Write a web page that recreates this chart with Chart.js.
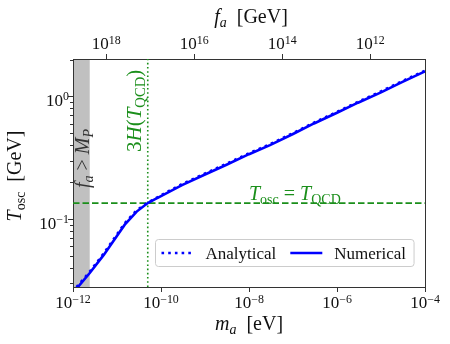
<!DOCTYPE html>
<html>
<head>
<meta charset="utf-8">
<script src="https://cdn.jsdelivr.net/npm/chart.js@4.4.1/dist/chart.umd.min.js"></script>
<style>
  body { margin: 0; background: #fff; }
  canvas { display: block; }
</style>
</head>
<body>
<canvas id="oscChart" width="450" height="344"></canvas>
<script>
// axion mass m_a [eV] and oscillation temperature T_osc [GeV]
const massEV = [1.2e-12, 2.4e-12, 5e-12, 8e-12, 1.5e-11, 2.8e-11, 5e-11, 7e-11, 1e-10, 3e-10, 1e-9,
  3e-9, 1e-8, 3e-8, 1e-7, 3e-7, 1e-6, 3e-6, 1e-5, 3e-5, 1e-4];
const tOscNumerical = [0.027, 0.0363, 0.051, 0.065, 0.090, 0.115, 0.135, 0.144, 0.154, 0.189, 0.231,
  0.276, 0.338, 0.401, 0.494, 0.602, 0.736, 0.889, 1.08, 1.31, 1.60];
const tOscAnalytical = [0.0278, 0.0372, 0.0525, 0.0668, 0.0925, 0.118, 0.136, 0.145, 0.156, 0.193, 0.235,
  0.281, 0.344, 0.408, 0.502, 0.612, 0.748, 0.902, 1.10, 1.33, 1.62];

const tQCD = 0.135;          // GeV, horizontal dashed line
const mHubble = 5e-11;       // eV, where 3H(T_QCD) = m_a
const mPlanck = 2.4e-12;     // eV, f_a = M_P
const faTimesMa = 5.7e6;     // f_a [GeV] * m_a [eV]

const massRange = [1e-12, 1e-4];
const tempRange = [0.0279, 2.02];
const massTickExp = [-12, -10, -8, -6, -4];
const faTickExp = [18, 16, 14, 12];
const tempTickExp = [-1, 0];
const tempMinor = [0.03, 0.04, 0.05, 0.06, 0.07, 0.08, 0.09, 0.2, 0.3, 0.4, 0.5, 0.6, 0.7, 0.8, 0.9, 2];

const FONT = '"Liberation Serif", "DejaVu Serif", serif';
const GREEN = '#1b8f1b';
const BLUE = '#0000ff';
const AXIS = '#333';

function drawMath(ctx, runs, x, y, size, align) {
  const parts = runs.map(r => {
    const s = (r.sub || r.sup) ? size * 0.7 : size;
    const font = (r.it ? 'italic ' : '') + s + 'px ' + FONT;
    ctx.font = font;
    return { t: r.t, font, w: ctx.measureText(r.t).width, dy: r.sub ? size * 0.22 : r.sup ? -size * 0.32 : 0 };
  });
  const total = parts.reduce((a, p) => a + p.w, 0);
  let cx = align === 'center' ? x - total / 2 : align === 'right' ? x - total : x;
  ctx.textAlign = 'left';
  ctx.textBaseline = 'alphabetic';
  parts.forEach(p => { ctx.font = p.font; ctx.fillText(p.t, cx, y + p.dy); cx += p.w; });
  return total;
}

function drawRotated(ctx, runs, x, y, size, align) {
  ctx.save();
  ctx.translate(x, y);
  ctx.rotate(-Math.PI / 2);
  drawMath(ctx, runs, 0, 0, size, align);
  ctx.restore();
}

function powLabel(e) {
  return [{ t: '10' }, { t: (e < 0 ? '\u2212' : '') + Math.abs(e), sup: true }];
}

const pts = ys => massEV.map((m, i) => ({ x: m, y: ys[i] }));

const decorPlugin = {
  id: 'decor',
  beforeDraw(chart) {
    const { ctx, chartArea: a, scales: { x } } = chart;
    ctx.save();
    ctx.fillStyle = '#c0c0c0';
    const x0 = x.getPixelForValue(massRange[0]);
    const x1 = x.getPixelForValue(mPlanck);
    ctx.fillRect(x0, a.top, x1 - x0, a.bottom - a.top);
    ctx.restore();
  },
  afterDraw(chart) {
    const { ctx, chartArea: a, scales: { x, xTop, y } } = chart;
    ctx.save();
    // minor ticks on T axis
    ctx.strokeStyle = AXIS;
    ctx.lineWidth = 1;
    tempMinor.forEach(v => {
      const py = Math.round(y.getPixelForValue(v)) + 0.5;
      ctx.beginPath(); ctx.moveTo(a.left - 3, py); ctx.lineTo(a.left, py); ctx.stroke();
    });
    // tick labels
    ctx.fillStyle = '#111';
    massTickExp.forEach(e => drawMath(ctx, powLabel(e), x.getPixelForValue(Math.pow(10, e)), a.bottom + 21, 17, 'center'));
    faTickExp.forEach(e => drawMath(ctx, powLabel(e), xTop.getPixelForValue(Math.pow(10, e)), a.top - 10, 17, 'center'));
    tempTickExp.forEach(e => drawMath(ctx, powLabel(e), a.left - 4, y.getPixelForValue(Math.pow(10, e)) + 9.5, 17, 'right'));
    // axis titles
    const cx = (a.left + a.right) / 2;
    drawMath(ctx, [{ t: 'm', it: true }, { t: 'a', it: true, sub: true }, { t: '  [eV]' }], cx, a.bottom + 43, 20, 'center');
    drawMath(ctx, [{ t: 'f', it: true }, { t: 'a', it: true, sub: true }, { t: '  [GeV]' }], cx + 2, a.top - 36, 20, 'center');
    drawRotated(ctx, [{ t: 'T', it: true }, { t: 'osc', sub: true }, { t: '  [GeV]' }], 21, (a.top + a.bottom) / 2 + 3, 20, 'center');
    // annotations
    ctx.fillStyle = GREEN;
    drawMath(ctx, [{ t: 'T', it: true }, { t: 'osc', sub: true }, { t: ' = ' }, { t: 'T', it: true }, { t: 'QCD', sub: true }],
      x.getPixelForValue(1e-8), y.getPixelForValue(tQCD) - 3, 20, 'left');
    drawRotated(ctx, [{ t: '3' }, { t: 'H', it: true }, { t: '(' }, { t: 'T', it: true }, { t: 'QCD', sub: true }, { t: ')' }],
      x.getPixelForValue(mHubble) - 7, a.top + 93, 21, 'left');
    ctx.fillStyle = '#333';
    drawRotated(ctx, [{ t: 'f', it: true }, { t: 'a', it: true, sub: true }, { t: ' > ' }, { t: 'M', it: true }, { t: 'P', it: true, sub: true }],
      x.getPixelForValue(mPlanck) - 1, a.top + 129, 20, 'left');
    // legend
    const items = chart.data.datasets.filter(d => d.label);
    const lx = 155.5, ly = 239.5, lh = 27, sample = 32;
    ctx.font = '17px ' + FONT;
    let w = 6;
    items.forEach((d, i) => { w += sample + 12 + ctx.measureText(d.label).width + (i < items.length - 1 ? 14 : 8); });
    ctx.beginPath();
    ctx.roundRect(lx, ly, w, lh, 3);
    ctx.fillStyle = 'rgba(255,255,255,0.8)';
    ctx.fill();
    ctx.strokeStyle = '#cccccc';
    ctx.lineWidth = 1;
    ctx.stroke();
    let ix = lx + 6;
    const iy = ly + lh / 2;
    items.forEach(d => {
      ctx.strokeStyle = d.borderColor;
      ctx.lineWidth = d.borderWidth;
      ctx.setLineDash(d.borderDash || []);
      ctx.beginPath(); ctx.moveTo(ix, iy); ctx.lineTo(ix + sample, iy); ctx.stroke();
      ctx.setLineDash([]);
      ix += sample + 12;
      ctx.fillStyle = '#111';
      ctx.font = '17px ' + FONT;
      ctx.textBaseline = 'alphabetic';
      ctx.fillText(d.label, ix, iy + 6);
      ix += ctx.measureText(d.label).width + 14;
    });
    ctx.restore();
  }
};

function logAxis(position, range, ticks, extra) {
  return Object.assign({
    type: 'logarithmic',
    position: position,
    min: range[0],
    max: range[1],
    ticks: { display: false },
    grid: { drawOnChartArea: false, drawTicks: true, tickLength: 5, tickColor: AXIS, tickWidth: 1 },
    border: { display: true, color: AXIS, width: 1 },
    afterBuildTicks: s => { s.ticks = ticks.map(v => ({ value: v })); }
  }, extra || {});
}

new Chart(document.getElementById('oscChart').getContext('2d'), {
  type: 'line',
  data: {
    datasets: [
      { label: 'Analytical', data: pts(tOscAnalytical), borderColor: BLUE, borderWidth: 2.6, borderDash: [2.6, 4.1],
        pointRadius: 0, tension: 0, order: 1 },
      { label: 'Numerical', data: pts(tOscNumerical), borderColor: BLUE, borderWidth: 2.6,
        pointRadius: 0, tension: 0, order: 0 },
      { data: [{ x: massRange[0], y: tQCD }, { x: massRange[1], y: tQCD }], borderColor: GREEN, borderWidth: 1.8,
        borderDash: [6.5, 3], pointRadius: 0, order: 2 },
      { data: [{ x: mHubble, y: tempRange[0] }, { x: mHubble, y: tempRange[1] }], borderColor: GREEN, borderWidth: 1.6,
        borderDash: [1.6, 2.6], pointRadius: 0, order: 2 }
    ]
  },
  options: {
    responsive: false,
    animation: false,
    layout: { padding: { left: 68, right: 25, top: 54, bottom: 52 } },
    plugins: { legend: { display: false }, tooltip: { enabled: false } },
    scales: {
      x: logAxis('bottom', massRange, massTickExp.map(e => Math.pow(10, e))),
      xTop: logAxis('top', [faTimesMa / massRange[1], faTimesMa / massRange[0]], faTickExp.map(e => Math.pow(10, e)), { reverse: true }),
      y: logAxis('left', tempRange, tempTickExp.map(e => Math.pow(10, e))),
      yRight: logAxis('right', tempRange, [], { grid: { display: false, drawTicks: false } })
    }
  },
  plugins: [decorPlugin]
});
</script>
</body>
</html>
